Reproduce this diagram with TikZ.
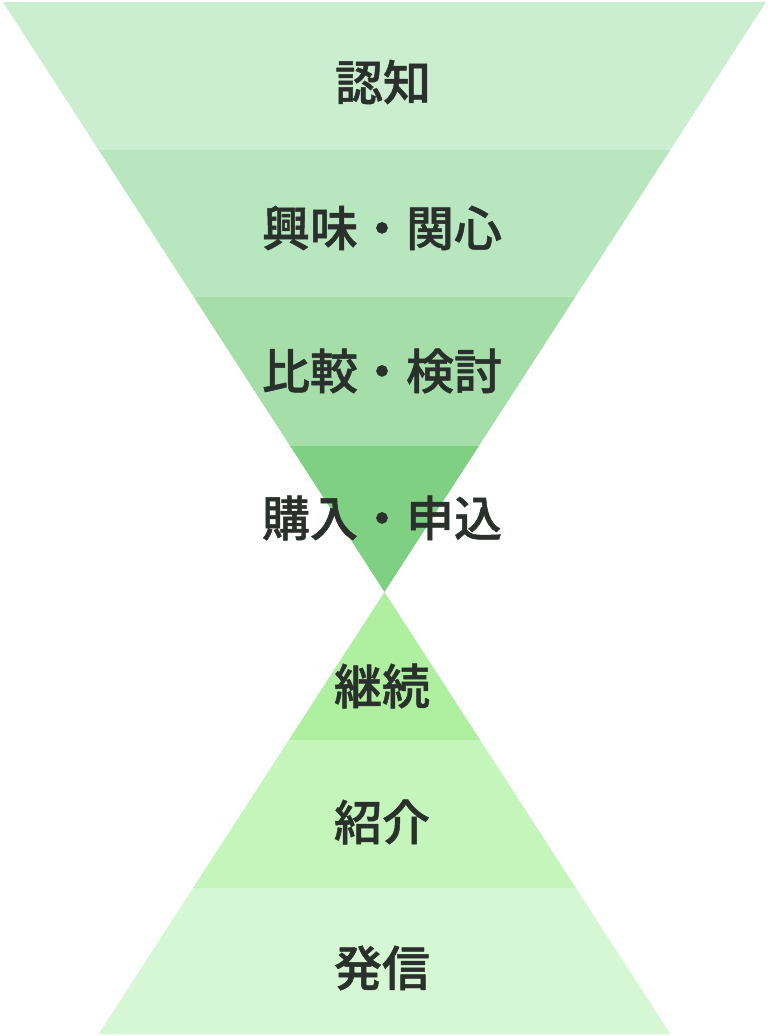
\documentclass[tikz,border=0pt]{standalone}
\usepackage{fontspec}
\newfontfamily\jp{Noto Sans CJK JP}[UprightFont=* Medium, FakeBold=1]
\definecolor{bandA}{HTML}{CCEED0}
\definecolor{bandB}{HTML}{B8E6BE}
\definecolor{bandC}{HTML}{A6DEAA}
\definecolor{bandD}{HTML}{80D083}
\definecolor{bandE}{HTML}{AEEFA0}
\definecolor{bandF}{HTML}{C4F6BB}
\definecolor{bandG}{HTML}{D6F7D3}
\definecolor{txt}{HTML}{2A302B}
\begin{document}
\begin{tikzpicture}[x=1pt,y=-1pt,
  lbl/.style={font=\jp\fontsize{48}{52}\selectfont, text=txt, inner sep=0pt, anchor=center}]
\useasboundingbox (0,0) rectangle (769,1036);
\fill[white] (0,0) rectangle (769,1036);
% top funnel
\fill[bandA] (3,2) -- (766,2) -- (670.3,150) -- (98.7,150) -- cycle;
\fill[bandB] (98.7,150) -- (670.3,150) -- (575.25,297) -- (193.75,297) -- cycle;
\fill[bandC] (193.75,297) -- (575.25,297) -- (478.9,446) -- (290.1,446) -- cycle;
\fill[bandD] (290.1,446) -- (478.9,446) -- (384.5,592) -- cycle;
% bottom pyramid
\fill[bandE] (384.5,592) -- (480.2,740) -- (288.8,740) -- cycle;
\fill[bandF] (288.8,740) -- (480.2,740) -- (575.9,888) -- (193.1,888) -- cycle;
\fill[bandG] (193.1,888) -- (575.9,888) -- (670.3,1034) -- (98.7,1034) -- cycle;
% labels
\node[lbl] (n1) at (383,82) {認知};
\node[lbl] (n2) at (382,228) {興味・関心};
\node[lbl] (n3) at (382,371) {比較・検討};
\node[lbl] (n4) at (382,518) {購入・申込};
\node[lbl] (n5) at (382,686) {継続};
\node[lbl] (n6) at (382,822) {紹介};
\node[lbl] (n7) at (382,968) {発信};
\end{tikzpicture}
\end{document}
